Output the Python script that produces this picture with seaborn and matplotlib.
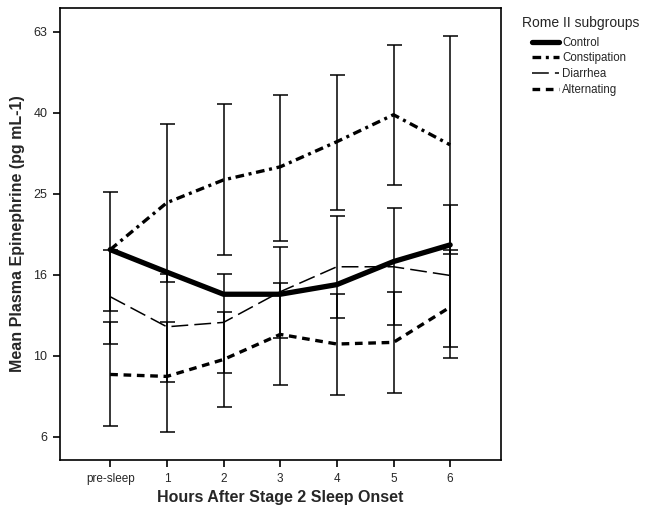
import matplotlib
matplotlib.use('Agg')
import matplotlib.pyplot as plt
import seaborn as sns
import numpy as np
import pandas as pd

# Hours after stage 2 onset
hours = ['pre-sleep', '1', '2', '3', '4', '5', '6']
groups = ['Control', 'Constipation', 'Diarrhea', 'Alternating']

# Mean plasma epinephrine (pg/mL)
control = [18.3, 16.1, 14.2, 14.2, 15.0, 17.1, 18.8]
constipation = [18.3, 23.9, 27.2, 29.3, 33.8, 39.4, 33.2]
diarrhea = [14.0, 11.8, 12.1, 14.4, 16.6, 16.6, 15.8]
alternating = [9.0, 8.9, 9.8, 11.3, 10.7, 10.8, 13.2]

# error bar ends (no bars on the control group)
constipation_lo = [12.9, 15.2, 17.7, 19.2, 22.9, 26.4, 17.8]
constipation_hi = [25.4, 37.4, 41.9, 44.1, 49.4, 58.6, 61.7]
diarrhea_lo = [10.7, 8.6, 9.1, 11.1, 12.4, 11.9, 10.5]
diarrhea_hi = [18.3, 15.9, 15.9, 18.6, 22.2, 23.2, 23.6]
alternating_lo = [6.7, 6.5, 7.5, 8.5, 8.0, 8.1, 9.9]
alternating_hi = [12.1, 12.1, 12.8, 15.1, 14.2, 14.4, 18.3]

yticks = [10 ** 0.8, 10 ** 1.0, 10 ** 1.2, 10 ** 1.4, 10 ** 1.6, 10 ** 1.8]
ytick_labels = ['6', '10', '16', '25', '40', '63']

sns.set_theme(style='ticks')
plt.rcParams['font.family'] = ['Liberation Sans', 'DejaVu Sans']

means = {'Control': control, 'Constipation': constipation,
         'Diarrhea': diarrhea, 'Alternating': alternating}
bars = {'Constipation': (constipation_lo, constipation_hi),
        'Diarrhea': (diarrhea_lo, diarrhea_hi),
        'Alternating': (alternating_lo, alternating_hi)}
styles = {
    'Control': dict(linewidth=3.8, linestyle='-'),
    'Constipation': dict(linewidth=2.4, linestyle=(0, (2.6, 1.4, 0.9, 1.4))),
    'Diarrhea': dict(linewidth=1.1, linestyle=(0, (11, 4))),
    'Alternating': dict(linewidth=2.4, linestyle=(0, (2.3, 1.7))),
}

df = pd.DataFrame({
    'hour': np.tile(np.arange(len(hours)), len(groups)),
    'group': np.repeat(groups, len(hours)),
    'value': np.concatenate([means[g] for g in groups]),
})

fig = plt.figure(figsize=(6.5, 5.11), dpi=100)
ax = fig.add_axes([0.092, 0.0998, 0.679, 0.8845])
ax.set_yscale('log')

x = np.arange(len(hours))
for g in ['Constipation', 'Diarrhea', 'Alternating']:
    lo, hi = bars[g]
    m = np.array(means[g])
    yerr = [m - np.array(lo), np.array(hi) - m]
    ax.errorbar(x, m, yerr=yerr, fmt='none', ecolor='black',
                elinewidth=1.1, capsize=5.4, capthick=1.1, zorder=2)

for g in groups:
    sub = df[df['group'] == g]
    sns.lineplot(data=sub, x='hour', y='value', ax=ax, color='black',
                 label=g, zorder=3, **styles[g])

ax.set_xlim(-0.89, 6.9)
ax.set_ylim(10 ** 0.743, 10 ** 1.859)
ax.set_xticks(x)
ax.set_xticklabels(hours, fontsize=8.5)
ax.yaxis.set_minor_locator(matplotlib.ticker.NullLocator())
ax.set_yticks(yticks)
ax.set_yticklabels(ytick_labels, fontsize=9)
ax.tick_params(axis='both', direction='out', length=5, width=1.2, color='black', pad=4)

for s in ax.spines.values():
    s.set_visible(True)
    s.set_linewidth(1.2)
    s.set_color('black')

ax.set_xlabel('Hours After Stage 2 Sleep Onset', fontsize=11.5, fontweight='bold', labelpad=4)
ax.set_ylabel('Mean Plasma Epinephrine (pg mL-1)', fontsize=11.5, fontweight='bold', labelpad=6)

handles, labels = ax.get_legend_handles_labels()
ax.legend(handles, labels, loc='upper left', bbox_to_anchor=(0.812, 0.937),
          bbox_transform=fig.transFigure, frameon=False, fontsize=8.3,
          handlelength=2.3, handletextpad=0.3, labelspacing=0.32, borderaxespad=0)
fig.text(0.803, 0.955, 'Rome II subgroups', fontsize=10, va='center', ha='left')

plt.savefig('out.png', dpi=100)
plt.close()
